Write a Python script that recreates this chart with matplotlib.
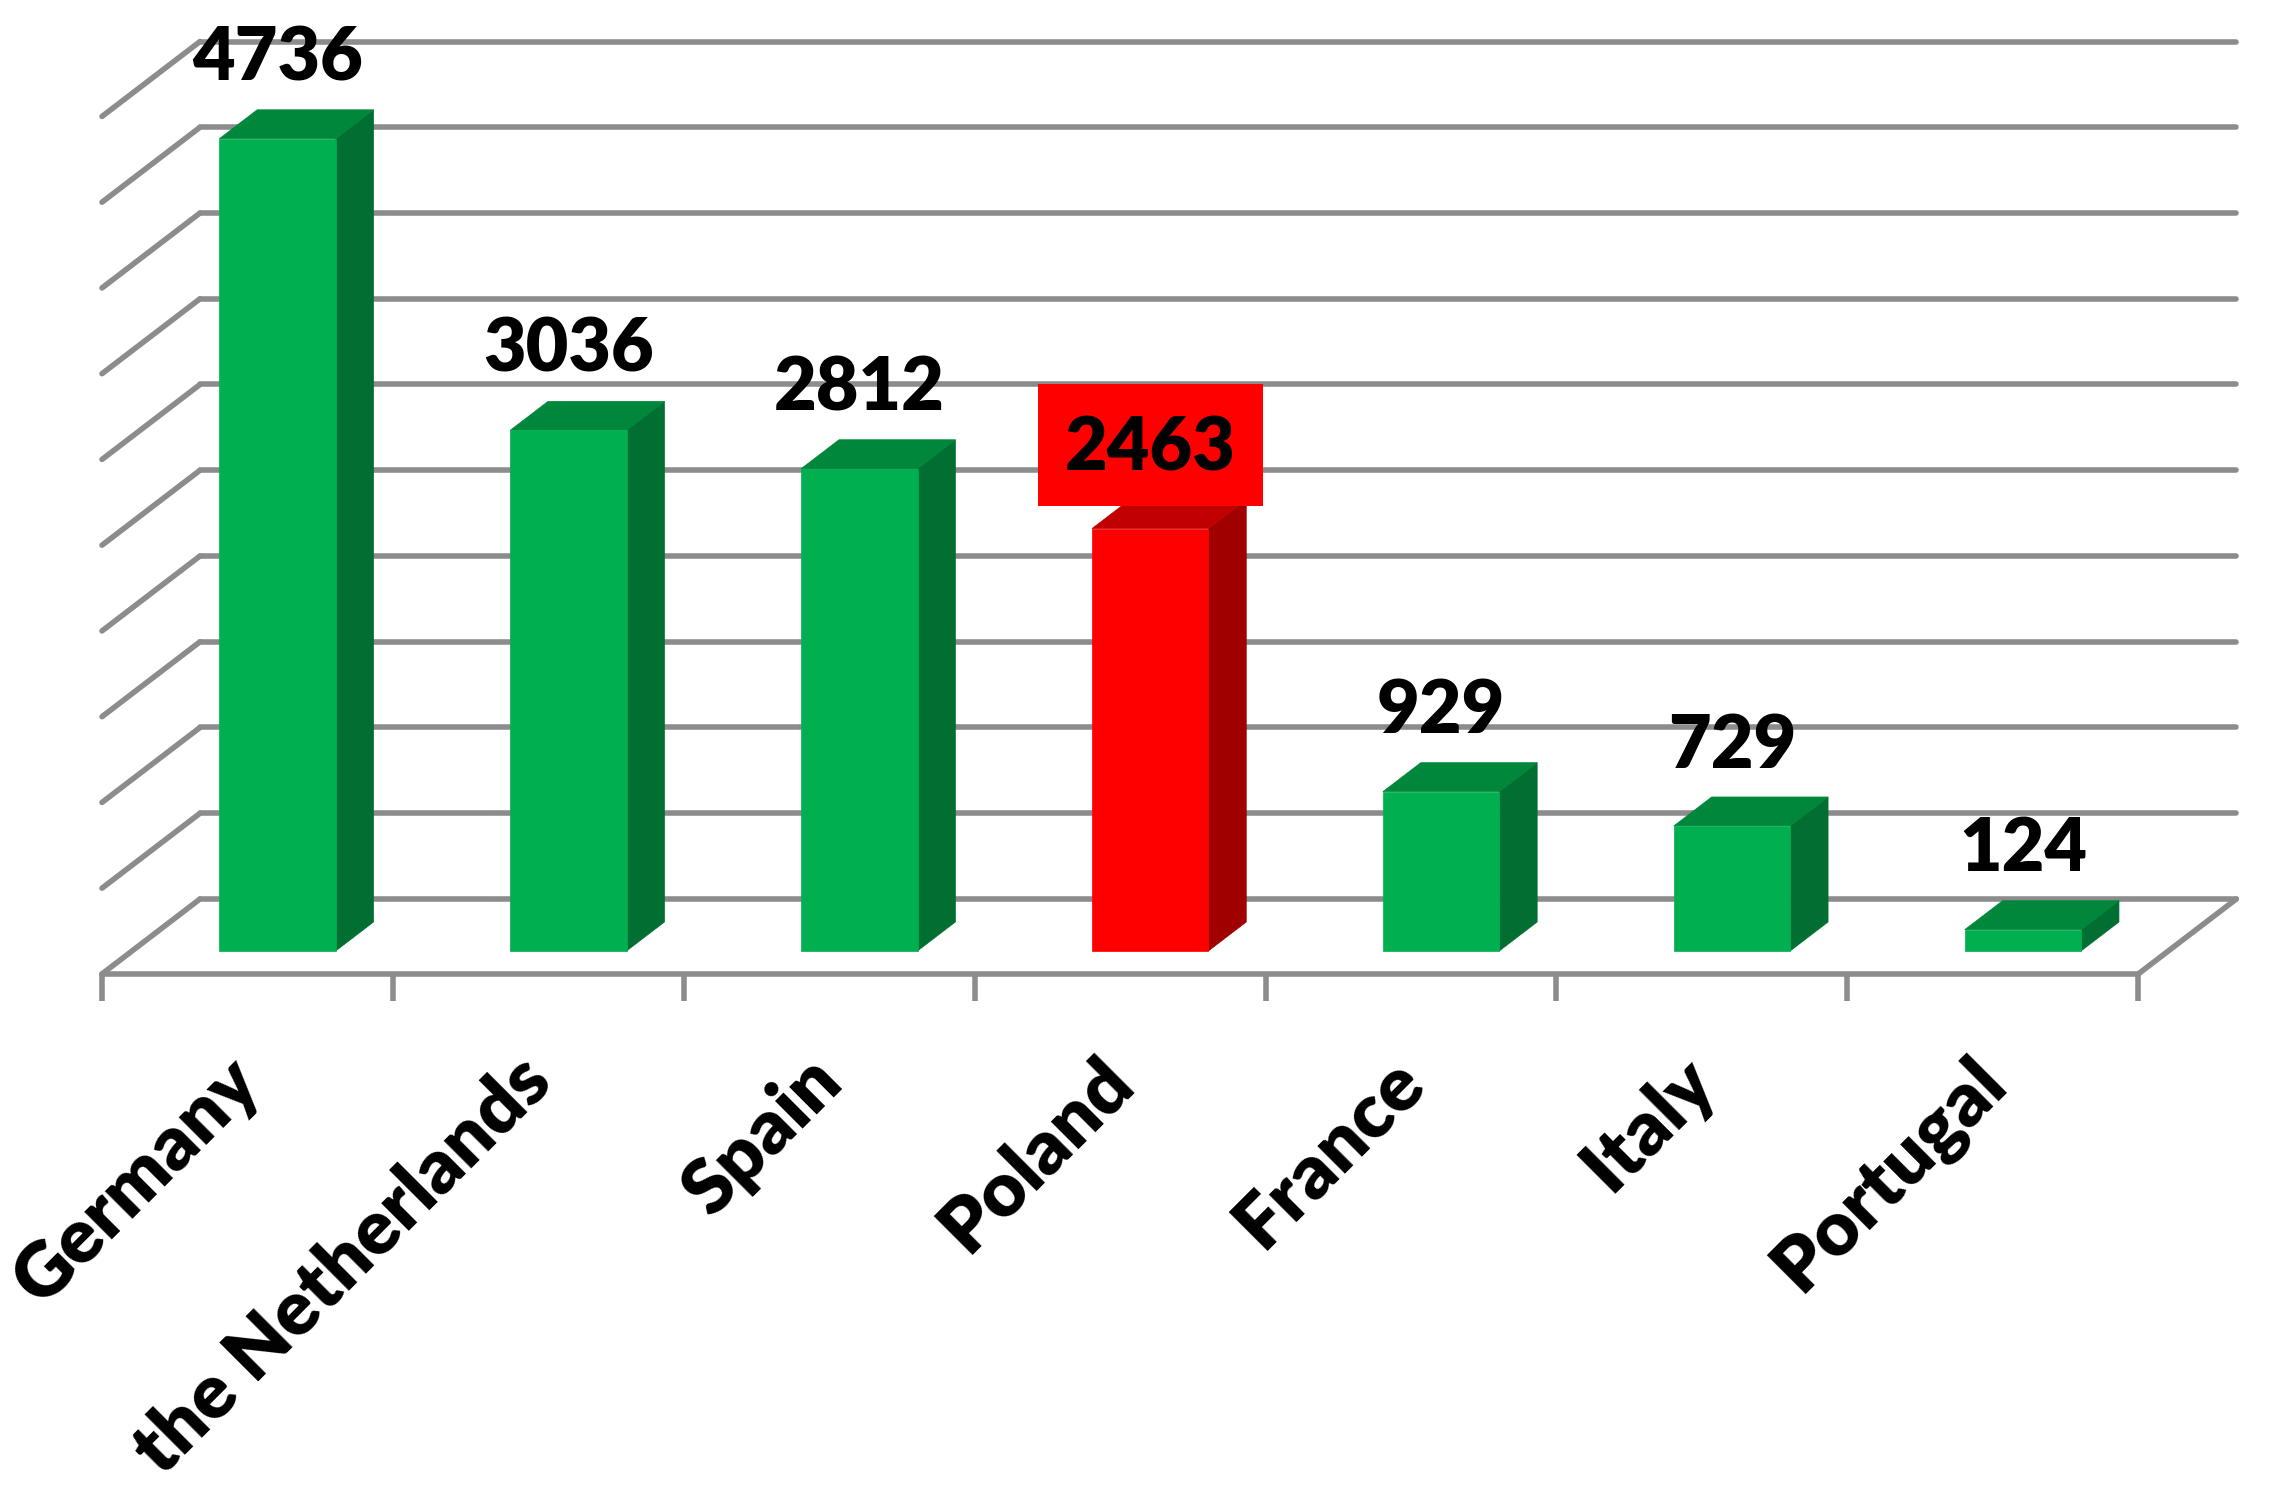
import matplotlib
matplotlib.use("Agg")
import matplotlib.pyplot as plt
from matplotlib.patches import Polygon

# data
countries = ["Germany", "the Netherlands", "Spain", "Poland", "France", "Italy", "Portugal"]
values = [4736, 3036, 2812, 2463, 929, 729, 124]
highlight = "Poland"
y_max = 5000
y_step = 500

# colours
GREEN_FRONT, GREEN_TOP, GREEN_SIDE = "#00B050", "#00873B", "#006F31"
RED_FRONT, RED_TOP, RED_SIDE = "#FF0000", "#C00000", "#A00000"
GRID = "#8C8C8C"

# fake 3D: depth d goes from 0 (front edge of floor) to 1 (back wall)
DX = 0.337    # shift of the back wall in category units
DY = 437.0    # shift of the back wall in value units
BAR_W = 0.4
D0, D1 = 0.307, 0.693   # bar depth range


def proj(x, v, d):
    return (x + d * DX, v + d * DY)


plt.rcParams["font.family"] = ["Lato", "DejaVu Sans"]

fig = plt.figure(figsize=(22.74, 14.97), dpi=100)
ax = fig.add_axes([0, 0, 1, 1])
ax.set_xlim(-0.3506, 7.4665)
ax.set_ylim(-3050, 5679)
ax.axis("off")

n = len(countries)
line_kw = dict(color=GRID, lw=4.0, solid_capstyle="round", zorder=1)

# back wall + left wall gridlines
for v in range(0, y_max + 1, y_step):
    xa, ya = proj(0, v, 1)
    xb, yb = proj(n, v, 1)
    ax.plot([xa, xb], [ya, yb], **line_kw)
    xc, yc = proj(0, v, 0)
    ax.plot([xc, xa], [yc, ya], **line_kw)

# floor front edge and right edge
ax.plot(*zip(proj(0, 0, 0), proj(n, 0, 0)), **line_kw)
ax.plot(*zip(proj(n, 0, 0), proj(n, 0, 1)), **line_kw)

# category tick marks
tick_len = 157
for i in range(n + 1):
    ax.plot([i, i], [0, -tick_len], color=GRID, lw=4.0, solid_capstyle="butt", zorder=1)

# bars
for i, (name, val) in enumerate(zip(countries, values)):
    if name == highlight:
        fc_front, fc_top, fc_side = RED_FRONT, RED_TOP, RED_SIDE
    else:
        fc_front, fc_top, fc_side = GREEN_FRONT, GREEN_TOP, GREEN_SIDE
    x0 = i + 0.5 - BAR_W / 2
    x1 = x0 + BAR_W
    front = [proj(x0, 0, D0), proj(x1, 0, D0), proj(x1, val, D0), proj(x0, val, D0)]
    top = [proj(x0, val, D0), proj(x1, val, D0), proj(x1, val, D1), proj(x0, val, D1)]
    side = [proj(x1, 0, D0), proj(x1, 0, D1), proj(x1, val, D1), proj(x1, val, D0)]
    for pts, fc in [(side, fc_side), (top, fc_top), (front, fc_front)]:
        ax.add_patch(Polygon(pts, closed=True, fc=fc, ec=fc, lw=0.5, zorder=2))

    anchor = proj(i + 0.5, val, D0)
    label_kw = dict(textcoords="offset points", ha="center", va="baseline",
                    fontsize=53, fontweight="heavy")

    # red box behind the highlighted value (drawn a bit higher than the text)
    if name == highlight:
        ax.annotate(f"{val}", xy=anchor, xytext=(0, 45), color="none",
                    bbox=dict(boxstyle="square,pad=0.37", fc=RED_FRONT, ec="none"),
                    zorder=3, **label_kw)

    # value label
    ax.annotate(f"{val}", xy=anchor, xytext=(0, 42), color="black",
                zorder=4, **label_kw)

    # category label
    ax.annotate(name, xy=(i + 0.5, 0), xytext=(12, -80), textcoords="offset points",
                rotation=45, rotation_mode="anchor", ha="right", va="baseline",
                fontsize=55, fontweight="heavy", color="black", zorder=4)

plt.savefig("out.png", dpi=100)
